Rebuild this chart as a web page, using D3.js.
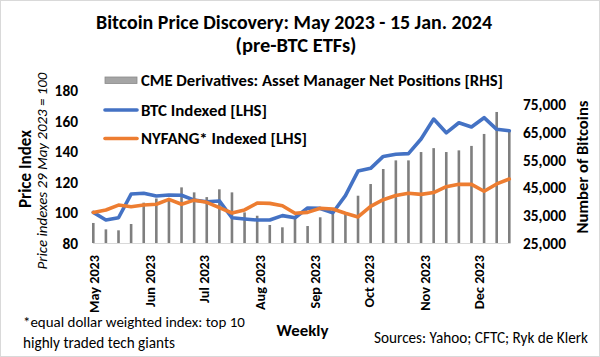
<!DOCTYPE html>
<html>
<head>
<meta charset="utf-8">
<script src="https://cdn.jsdelivr.net/npm/d3@7"></script>
<style>
  html, body { margin: 0; padding: 0; background: #fff; }
  svg { display: block; font-family: Carlito, Calibri, Lato, sans-serif; }
</style>
</head>
<body>
<svg id="chart" width="600" height="357"></svg>
<script>
// ---------------- DATA ----------------
const weeks = [
  "2023-05-01","2023-05-08","2023-05-15","2023-05-22","2023-05-29",
  "2023-06-05","2023-06-12","2023-06-19","2023-06-26",
  "2023-07-03","2023-07-10","2023-07-17","2023-07-24","2023-07-31",
  "2023-08-07","2023-08-14","2023-08-21","2023-08-28",
  "2023-09-04","2023-09-11","2023-09-18","2023-09-25",
  "2023-10-02","2023-10-09","2023-10-16","2023-10-23","2023-10-30",
  "2023-11-06","2023-11-13","2023-11-20","2023-11-27",
  "2023-12-04","2023-12-11","2023-12-18"
];
const btcIndexed = [100, 95, 96.5, 112, 112.5, 110.7, 111.4, 111.2, 108, 107, 107.5, 96.5,
  95.7, 95, 95, 97.9, 96.5, 102.9, 102.6, 99.8, 111, 127, 128.8, 136.6, 138, 138.4,
  148, 161, 152, 158.6, 155.8, 161.9, 154.3, 153.4];
const nyfangIndexed = [100, 101.6, 104.8, 103.7, 104.8, 105.3, 108.5, 105.3, 108, 106.6, 103.1, 99.6,
  101.6, 106.1, 105.9, 104.4, 99.4, 100, 102.7, 102.2, 99.4, 97, 104, 108.3, 111, 112.5,
  111.8, 113, 116.8, 118.4, 118.3, 113.8, 118.6, 121.8];
const cmeNetPositions = [32200, 29900, 29560, 31830, 39500, 41000, 40700, 45000, 43200, 41500, 44300, 43200,
  36000, 34800, 31470, 30640, 34100, 31100, 34240, 36250, 36000, 42000, 46200, 51600, 54700, 54700,
  57700, 59100, 57700, 58300, 59900, 64200, 72100, 65300];
const leftTicks = [80, 100, 120, 140, 160, 180];
const rightTicks = [25000, 35000, 45000, 55000, 65000, 75000];
const seriesNames = ["CME Derivatives: Asset Manager Net Positions [RHS]", "BTC Indexed [LHS]", "NYFANG* Indexed [LHS]"];
const titleLines = ["Bitcoin Price Discovery: May 2023 - 15 Jan. 2024", "(pre-BTC ETFs)"];

// ---------------- STYLE ----------------
const BLUE = "#4472C4", ORANGE = "#ED7D31", GRAY = "#7f7f7f";
const FONT = "Carlito, Calibri, Lato, sans-serif";

const svg = d3.select("#chart");
const parse = d3.timeParse("%Y-%m-%d");
const dates = weeks.map(parse);

function fit(sel, w) {
  const len = sel.node().getComputedTextLength();
  const fs = parseFloat(sel.attr("font-size"));
  sel.attr("font-size", (fs * w / len).toFixed(2));
  return sel;
}

// border
svg.append("rect").attr("x", 0.5).attr("y", 0.5).attr("width", 599).attr("height", 356)
  .attr("fill", "#fff").attr("stroke", "#d9d9d9");

// scales
const plot = { left: 92.4, right: 510.2, top: 90, bottom: 243 };
const x = d3.scaleTime()
  .domain([d3.timeHour.offset(dates[0], -12), d3.timeHour.offset(dates[dates.length - 1], 12)])
  .range([plot.left, plot.right]);
const yL = d3.scaleLinear().domain([80, 180]).range([plot.bottom, plot.top]);
const yR = d3.scaleLinear().domain([25000, 80000]).range([plot.bottom, plot.top]);

// bars
svg.append("g").selectAll("rect").data(cmeNetPositions).join("rect")
  .attr("x", (d, i) => x(dates[i]) - 1.3)
  .attr("width", 2.6)
  .attr("y", d => yR(d))
  .attr("height", d => yR(25000) - yR(d))
  .attr("fill", GRAY);

// x axis
const xAxis = svg.append("g").attr("transform", `translate(0,${plot.bottom})`)
  .call(d3.axisBottom(x)
    .tickValues(d3.timeMonth.range(d3.timeMonth.floor(dates[0]), dates[dates.length - 1]))
    .tickFormat(d3.timeFormat("%b %Y"))
    .tickSize(0));
xAxis.select(".domain").attr("stroke", "#d9d9d9").attr("stroke-width", 1);
xAxis.selectAll("text")
  .attr("font-family", FONT)
  .attr("font-weight", "bold").attr("fill", "#000").attr("font-size", 14)
  .attr("transform", "rotate(-90)")
  .attr("x", -12).attr("y", 0).attr("dy", "0.36em")
  .style("text-anchor", "end");
{
  const t = xAxis.select("text");
  const len = t.node().getComputedTextLength();
  const fs = (14 * 58 / len).toFixed(2);
  xAxis.selectAll("text").attr("font-size", fs);
}

// right axis
const rAxis = svg.append("g").attr("transform", `translate(${plot.right},0)`)
  .call(d3.axisRight(yR).tickValues(rightTicks).tickSize(0).tickFormat(d3.format(",")));
rAxis.select(".domain").remove();
rAxis.selectAll("text").attr("font-family", FONT)
  .attr("font-weight", "bold").attr("fill", "#000").attr("font-size", 14.5)
  .attr("x", 523 - plot.right).attr("dy", "0.36em").style("text-anchor", "start");
let tickFs;
{
  const len = rAxis.selectAll("text").nodes()[5].getComputedTextLength();
  tickFs = (14.5 * 43 / len).toFixed(2);
  rAxis.selectAll("text").attr("font-size", tickFs);
}

// left axis
const lAxis = svg.append("g").attr("transform", `translate(${plot.left},0)`)
  .call(d3.axisLeft(yL).tickValues(leftTicks).tickSize(0));
lAxis.select(".domain").remove();
lAxis.selectAll("text").attr("font-family", FONT)
  .attr("font-weight", "bold").attr("fill", "#000").attr("font-size", tickFs)
  .attr("x", 78 - plot.left).attr("dy", "0.36em").style("text-anchor", "end");

// lines
const lineL = d3.line().x((d, i) => x(dates[i])).y(d => yL(d)).curve(d3.curveLinear);
svg.append("path").datum(btcIndexed).attr("d", lineL)
  .attr("fill", "none").attr("stroke", BLUE).attr("stroke-width", 3.6)
  .attr("stroke-linejoin", "round").attr("stroke-linecap", "round");
svg.append("path").datum(nyfangIndexed).attr("d", lineL)
  .attr("fill", "none").attr("stroke", ORANGE).attr("stroke-width", 3.6)
  .attr("stroke-linejoin", "round").attr("stroke-linecap", "round");

// legend
const lg = svg.append("g");
lg.append("rect").attr("x", 105).attr("y", 77).attr("width", 32).attr("height", 6.5)
  .attr("fill", "#a5a5a5").attr("stroke", "#8a8a8a").attr("stroke-width", 0.8);
lg.append("line").attr("x1", 105).attr("x2", 137).attr("y1", 110).attr("y2", 110)
  .attr("stroke", BLUE).attr("stroke-width", 3.6).attr("stroke-linecap", "round");
lg.append("line").attr("x1", 105).attr("x2", 137).attr("y1", 138.5).attr("y2", 138.5)
  .attr("stroke", ORANGE).attr("stroke-width", 3.6).attr("stroke-linecap", "round");
const legW = [362, 126, 166];
const legY = [85.5, 115.5, 144];
seriesNames.forEach((s, i) => {
  const t = lg.append("text").attr("x", 141).attr("y", legY[i]).attr("font-size", 16)
    .attr("font-weight", "bold").attr("fill", "#000").text(s);
  fit(t, legW[i]);
});

// title
const t1 = svg.append("text").attr("x", 294).attr("y", 29).attr("text-anchor", "middle")
  .attr("font-size", 18).attr("font-weight", "bold").text(titleLines[0]);
fit(t1, 396);
const t2 = svg.append("text").attr("x", 296).attr("y", 52).attr("text-anchor", "middle")
  .attr("font-size", 18).attr("font-weight", "bold").text(titleLines[1]);
fit(t2, 121);

// axis titles
const at1 = svg.append("text").attr("transform", "translate(31,169) rotate(-90)")
  .attr("text-anchor", "middle").attr("font-size", 16).attr("font-weight", "bold")
  .text("Price Index");
fit(at1, 78);
const at2 = svg.append("text").attr("transform", "translate(47,171) rotate(-90)")
  .attr("text-anchor", "middle").attr("font-size", 13.5).attr("font-style", "italic")
  .text("Price indexes 29 May 2023 = 100");
fit(at2, 197);
const at3 = svg.append("text").attr("transform", "translate(588,167) rotate(-90)")
  .attr("text-anchor", "middle").attr("font-size", 16).attr("font-weight", "bold")
  .text("Number of Bitcoins");
fit(at3, 133);
const wk = svg.append("text").attr("x", 302.5).attr("y", 336).attr("text-anchor", "middle")
  .attr("font-size", 17).attr("font-weight", "bold").text("Weekly");
fit(wk, 52);

// footnotes
const f1 = svg.append("text").attr("x", 23).attr("y", 327).attr("font-size", 14.5)
  .text("*equal dollar weighted index: top 10");
fit(f1, 222);
const f2 = svg.append("text").attr("x", 23).attr("y", 348).attr("font-size", 14.5)
  .text("highly traded tech giants");
fit(f2, 152);
const src = svg.append("text").attr("x", 588).attr("y", 343).attr("text-anchor", "end")
  .attr("font-size", 14.5).text("Sources: Yahoo; CFTC; Ryk de Klerk");
fit(src, 214);
</script>
</body>
</html>
